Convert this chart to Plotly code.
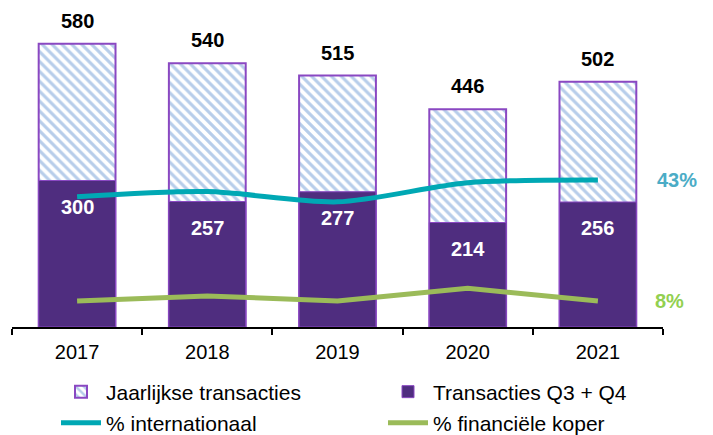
import plotly.graph_objects as go

# data
years = ["2017", "2018", "2019", "2020", "2021"]
jaarlijkse = [580, 540, 515, 446, 502]
q3_q4 = [300, 257, 277, 214, 256]
pct_internationaal = [38.1, 39.6, 36.6, 42.2, 43.0]
pct_financieel = [7.6, 9.1, 7.6, 11.3, 7.6]

PURPLE = "#4f2d7f"
PURPLE_EDGE = "#8a48c2"
STRIPE = "#6f9bd6"
TEAL = "#00a8b4"
TEAL_LABEL = "#4bacc6"
GREEN = "#9bbb59"
GREEN_LABEL = "#92d050"
FONT = "Liberation Sans, Arial, sans-serif"

fig = go.Figure()

fig.add_trace(go.Bar(
    x=years, y=jaarlijkse, name="Jaarlijkse transacties",
    marker=dict(
        color="white",
        line=dict(color=PURPLE_EDGE, width=2),
        pattern=dict(shape="\\", fgcolor=STRIPE, bgcolor="white",
                     size=7, solidity=0.45),
    ),
    width=0.59, legend="legend",
))
fig.add_trace(go.Bar(
    x=years, y=q3_q4, name="Transacties Q3 + Q4",
    marker=dict(color=PURPLE, line=dict(color=PURPLE_EDGE, width=1)),
    width=0.59, legend="legend2",
))
fig.add_trace(go.Scatter(
    x=years, y=pct_internationaal, name="% internationaal", yaxis="y2",
    mode="lines", line=dict(color=TEAL, width=5, shape="spline", smoothing=0.8),
    legend="legend3",
))
fig.add_trace(go.Scatter(
    x=years, y=pct_financieel, name="% financiële koper", yaxis="y2",
    mode="lines", line=dict(color=GREEN, width=5),
    legend="legend4",
))

# value labels (annotations placed by category index)
for i, total in enumerate(jaarlijkse):
    fig.add_annotation(x=i, y=total, text=f"<b>{total}</b>", showarrow=False,
                       yshift=23, font=dict(size=20, color="black", family=FONT))
for i, val in enumerate(q3_q4):
    fig.add_annotation(x=i, y=val, text=f"<b>{val}</b>", showarrow=False,
                       yshift=-26, font=dict(size=20, color="white", family=FONT))

last = len(years) - 1
fig.add_annotation(x=last, y=pct_internationaal[-1], yref="y2",
                   text=f"<b>{round(pct_internationaal[-1])}%</b>", showarrow=False,
                   xanchor="left", xshift=57,
                   font=dict(size=20, color=TEAL_LABEL, family=FONT))
fig.add_annotation(x=last, y=pct_financieel[-1], yref="y2",
                   text=f"<b>{round(pct_financieel[-1])}%</b>", showarrow=False,
                   xanchor="left", xshift=55,
                   font=dict(size=20, color=GREEN_LABEL, family=FONT))

# page body adds an 8px offset, so the figure is laid out 8px up/left
W, H = 713, 435
legend_common = dict(
    orientation="h", xref="container", yref="container",
    xanchor="left", yanchor="middle",
    font=dict(size=21, color="black", family=FONT),
    itemwidth=40, bgcolor="rgba(0,0,0,0)",
)
col1, col2 = 48 / W, 375 / W
row1, row2 = 1 - 384 / H, 1 - 415 / H

fig.update_layout(
    width=W, height=H,
    margin=dict(l=4, r=58, t=26, b=116, autoexpand=False),
    paper_bgcolor="white", plot_bgcolor="white",
    barmode="overlay",
    font=dict(family=FONT, size=20, color="black"),
    showlegend=True,
    legend=dict(legend_common, x=col1, y=row1),
    legend2=dict(legend_common, x=col2, y=row1),
    legend3=dict(legend_common, x=col1, y=row2),
    legend4=dict(legend_common, x=col2, y=row2),
    xaxis=dict(
        type="category", range=[-0.5, len(years) - 0.5],
        showline=True, linecolor="black", linewidth=2,
        ticks="outside", tickson="boundaries", ticklen=6, tickcolor="black",
        tickwidth=2, showgrid=False, ticklabelstandoff=6,
        tickfont=dict(size=20),
    ),
    yaxis=dict(range=[0, 600], visible=False, showgrid=False),
    yaxis2=dict(range=[0, 85.7], overlaying="y", visible=False, showgrid=False),
)

fig.write_html("out.html")
